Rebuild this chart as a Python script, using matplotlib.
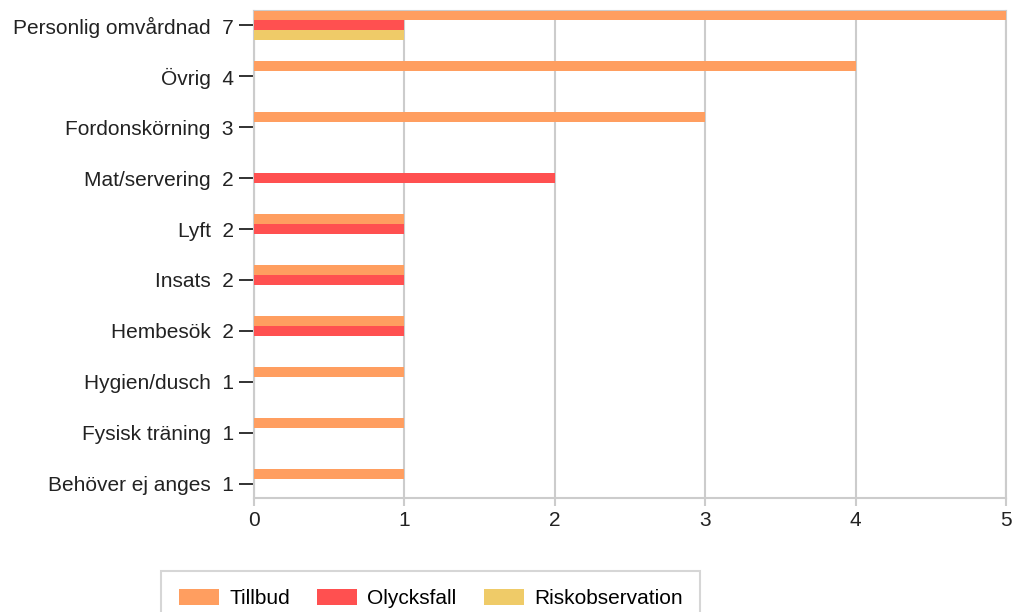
import matplotlib
matplotlib.use("Agg")
import matplotlib.pyplot as plt
from matplotlib.patches import Patch
import numpy as np

categories = ["Personlig omvårdnad", "Övrig", "Fordonskörning", "Mat/servering",
              "Lyft", "Insats", "Hembesök", "Hygien/dusch", "Fysisk träning",
              "Behöver ej anges"]
totals = [7, 4, 3, 2, 2, 2, 2, 1, 1, 1]
tillbud = [5, 4, 3, 0, 1, 1, 1, 1, 1, 1]
olycksfall = [1, 0, 0, 2, 1, 1, 1, 0, 0, 0]
riskobservation = [1, 0, 0, 0, 0, 0, 0, 0, 0, 0]
series_names = ["Tillbud", "Olycksfall", "Riskobservation"]
colors = ["#FF9E60", "#FF5050", "#EFCB68"]
x_ticks = [0, 1, 2, 3, 4, 5]

plt.rcParams['font.family'] = ['Liberation Sans', 'DejaVu Sans']
FS = 15

W, H = 1014, 612
fig = plt.figure(figsize=(W / 100, H / 100), dpi=100)
ax = fig.add_axes([254 / W, 1 - 498 / H, (1006 - 254) / W, (498 - 11) / H])

y = np.arange(len(categories))
off = 0.198
bh = 0.19
for i, (vals, c) in enumerate(zip([tillbud, olycksfall, riskobservation], colors)):
    ax.barh(y + (i - 1) * off, vals, height=bh, color=c, edgecolor='none', zorder=3)

ax.set_xlim(0, 5)
ax.set_ylim(9.275, -0.275)
ax.set_xticks(x_ticks)
ax.set_xticklabels([str(t) for t in x_ticks], fontsize=FS, color='#222222')
ax.set_yticks(y)
ax.set_yticklabels([f"{c}  {t}" for c, t in zip(categories, totals)], fontsize=FS, color='#222222')

grid_c = '#CCCCCC'
ax.grid(axis='x', color=grid_c, linewidth=1.5, zorder=0)
for s in ax.spines.values():
    s.set_color(grid_c)
    s.set_linewidth(1.5)
ax.tick_params(axis='y', length=11, width=1.3, color='#222222', pad=3.5)
ax.tick_params(axis='x', length=6, width=1.5, color=grid_c, pad=3)

handles = [Patch(facecolor=c, edgecolor='none', label=n) for c, n in zip(colors, series_names)]
leg = fig.legend(handles=handles, loc='upper left', bbox_to_anchor=(161 / W, 1 - 571 / H),
                 ncol=3, fontsize=FS, frameon=True, fancybox=False, borderaxespad=0,
                 handlelength=1.92, handleheight=0.82, handletextpad=0.5,
                 columnspacing=1.3, borderpad=0.85)
leg.get_frame().set_edgecolor('#CCCCCC')
leg.get_frame().set_linewidth(1.5)

fig.savefig("out.png", dpi=100)
